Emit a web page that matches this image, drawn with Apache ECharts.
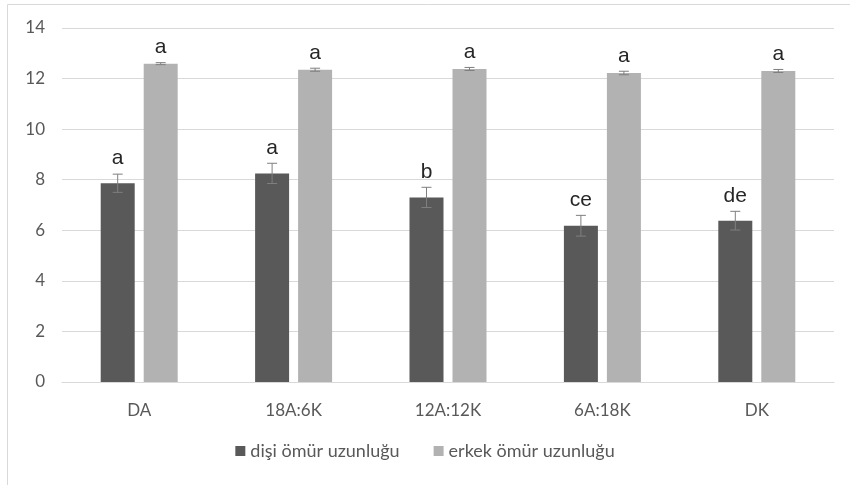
<!DOCTYPE html>
<html lang="tr">
<head>
    <meta charset="UTF-8">
    <title>ömür uzunluğu</title>
    <style>
        html, body { margin: 0; padding: 0; background: #fff; }
    </style>
</head>
<body>
    <div id="main" style="width: 850px;height:485px;"></div>
    <script src="https://cdn.jsdelivr.net/npm/echarts@6/dist/echarts.min.js"></script>
    <script>

var categories = ['DA', '18A:6K', '12A:12K', '6A:18K', 'DK'];
var femaleValues = [7.86, 8.25, 7.30, 6.18, 6.38];
var femaleErrors = [0.36, 0.40, 0.40, 0.41, 0.37];
var femaleLetters = ['a', 'a', 'b', 'ce', 'de'];
var maleValues = [12.59, 12.35, 12.38, 12.22, 12.30];
var maleErrors = [0.04, 0.06, 0.06, 0.07, 0.06];
var maleLetters = ['a', 'a', 'a', 'a', 'a'];
var seriesNames = ['dişi ömür uzunluğu', 'erkek ömür uzunluğu'];

var colors = ['#595959', '#b2b2b2'];
var barW = 34;
var barGapPx = 9;
var axisFont = 'Lato';

// hata çubukları + harfler (custom seri)
function errData(vals, errs, letters) {
    var out = [];
    for (var i = 0; i < vals.length; i++) {
        out.push([i, vals[i], errs[i], letters[i]]);
    }
    return out;
}
function makeErrRender(shift) {
    return function (params, api) {
        var idx = api.value(0);
        var v = api.value(1);
        var e = api.value(2);
        var hi = api.coord([idx, v + e]);
        var lo = api.coord([idx, v - e]);
        var x = hi[0] + shift;
        var cap = 5;
        var st = { stroke: '#7f7f7f', lineWidth: 1 };
        return {
            type: 'group',
            children: [
                { type: 'line', shape: { x1: x, y1: hi[1], x2: x, y2: lo[1] }, style: st },
                { type: 'line', shape: { x1: x - cap, y1: hi[1], x2: x + cap, y2: hi[1] }, style: st },
                { type: 'line', shape: { x1: x - cap, y1: lo[1], x2: x + cap, y2: lo[1] }, style: st },
                {
                    type: 'text',
                    x: x, y: hi[1] - 5,
                    style: {
                        text: api.value(3),
                        fill: '#262626',
                        font: '21px "Liberation Sans"',
                        align: 'center',
                        verticalAlign: 'bottom'
                    }
                }
            ]
        };
    };
}

var shift = (barW + barGapPx) / 2;

var option = {
    animation: false,
    color: colors,
    grid: { left: 62, right: 16, top: 28, bottom: 103 },
    legend: {
        data: seriesNames,
        bottom: 20,
        itemWidth: 10,
        itemHeight: 10,
        itemGap: 34,
        icon: 'rect',
        textStyle: { color: '#595959', fontSize: 18, fontFamily: axisFont }
    },
    graphic: [
        { type: 'line', shape: { x1: 7.5, y1: 4.5, x2: 850, y2: 4.5 }, style: { stroke: '#d9d9d9', lineWidth: 1 } },
        { type: 'line', shape: { x1: 7.5, y1: 4.5, x2: 7.5, y2: 485 }, style: { stroke: '#d9d9d9', lineWidth: 1 } }
    ],
    xAxis: {
        type: 'category',
        data: categories,
        axisTick: { show: false },
        axisLine: { lineStyle: { color: '#d9d9d9' } },
        axisLabel: { color: '#595959', fontSize: 17, fontFamily: axisFont, margin: 20 }
    },
    yAxis: {
        type: 'value',
        min: 0,
        max: 14,
        interval: 2,
        axisLine: { show: false },
        axisTick: { show: false },
        splitLine: { lineStyle: { color: '#d9d9d9' } },
        axisLabel: { color: '#595959', fontSize: 17, fontFamily: axisFont, margin: 17 }
    },
    series: [
        {
            name: seriesNames[0],
            type: 'bar',
            barWidth: barW,
            barGap: (barGapPx / barW * 100) + '%',
            data: femaleValues
        },
        {
            name: seriesNames[1],
            type: 'bar',
            barWidth: barW,
            data: maleValues
        },
        {
            type: 'custom',
            renderItem: makeErrRender(-shift),
            data: errData(femaleValues, femaleErrors, femaleLetters),
            encode: { x: 0, y: 1 },
            z: 10
        },
        {
            type: 'custom',
            renderItem: makeErrRender(shift),
            data: errData(maleValues, maleErrors, maleLetters),
            encode: { x: 0, y: 1 },
            z: 10
        }
    ]
};

var myChart = echarts.init(document.getElementById('main'));
myChart.setOption(option);

    </script>
</body>
</html>
